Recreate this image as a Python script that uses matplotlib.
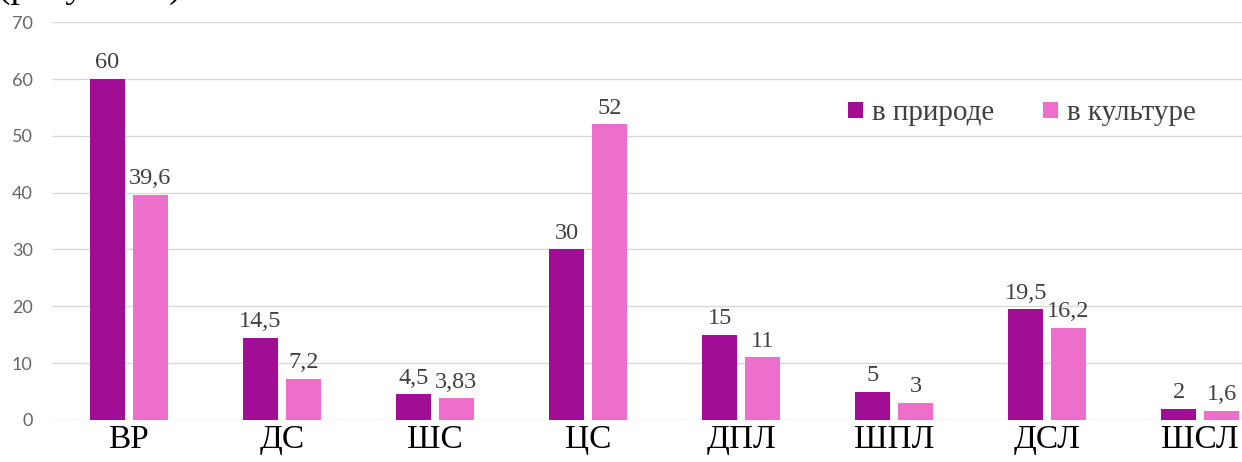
import numpy as np
import matplotlib
matplotlib.use("Agg")
import matplotlib.pyplot as plt

categories = ["ВР", "ДС", "ШС", "ЦС", "ДПЛ", "ШПЛ", "ДСЛ", "ШСЛ"]
in_nature = [60, 14.5, 4.5, 30, 15, 5, 19.5, 2]
in_culture = [39.6, 7.2, 3.83, 52, 11, 3, 16.2, 1.6]
nature_labels = ["60", "14,5", "4,5", "30", "15", "5", "19,5", "2"]
culture_labels = ["39,6", "7,2", "3,83", "52", "11", "3", "16,2", "1,6"]

c_nature = "#A20D96"
c_culture = "#EE6FCB"
serif = "Liberation Serif"


def main():
    fig = plt.figure(figsize=(12.42, 4.62), dpi=100)
    # axes run past the right edge, the last group sits at the border
    ax = fig.add_axes([0.042, 0.091, 0.986, 0.861])

    x = np.arange(len(categories))
    w = 0.23
    off = 0.14
    b1 = ax.bar(x - off, in_nature, w, color=c_nature, label="в природе", zorder=3)
    b2 = ax.bar(x + off, in_culture, w, color=c_culture, label="в культуре", zorder=3)

    for bars, labels in ((b1, nature_labels), (b2, culture_labels)):
        for rect, lab in zip(bars, labels):
            ax.annotate(lab, (rect.get_x() + rect.get_width() / 2, rect.get_height()),
                        xytext=(0, 4), textcoords="offset points",
                        ha="center", va="bottom", fontsize=17.5,
                        family=serif, color="#404040")

    ax.set_xlim(-0.5, len(categories) - 0.5)
    ax.set_ylim(0, 70)
    ax.set_yticks(range(0, 71, 10))
    ax.yaxis.grid(True, color="#d9d9d9", linewidth=1, zorder=0)
    for s in ax.spines.values():
        s.set_visible(False)
    ax.tick_params(axis="both", length=0)
    ax.tick_params(axis="y", labelsize=13, labelcolor="#666666", pad=14)
    ax.tick_params(axis="x", labelsize=24, pad=3)
    ax.set_xticks(x)
    ax.set_xticklabels(categories, family=serif)
    for t in ax.get_yticklabels():
        t.set_family("Lato")

    leg = fig.legend(loc="center left", bbox_to_anchor=(0.683, 0.755), ncol=2,
                     frameon=False, prop={"family": serif, "size": 21},
                     handlelength=0.5, handleheight=0.5, handletextpad=0.3,
                     columnspacing=1.7, borderaxespad=0, borderpad=0)
    for t in leg.get_texts():
        t.set_color("#404040")

    # caption line above, cut by the top border
    fig.text(-0.002, 1.007, "(рисунок 5)", family=serif, fontsize=27,
             ha="left", va="baseline", color="black")

    fig.savefig("out.png", dpi=100)


if __name__ == "__main__":
    main()
